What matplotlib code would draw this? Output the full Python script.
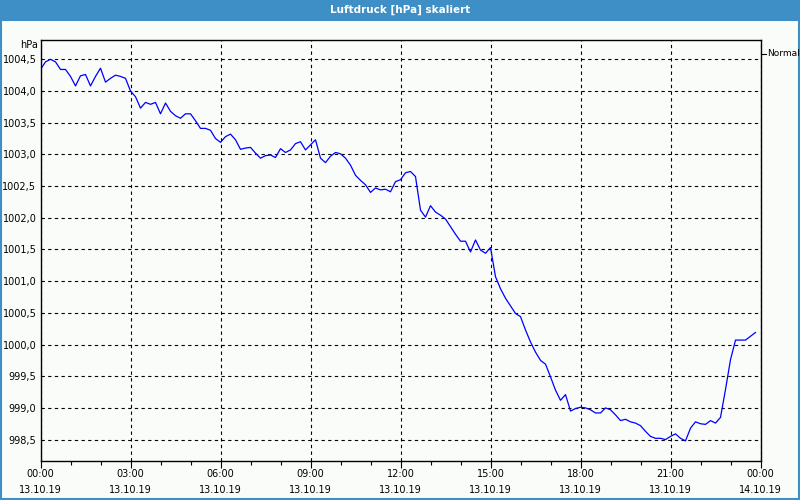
import numpy as np
import matplotlib.pyplot as plt
from matplotlib.patches import Rectangle
from matplotlib.lines import Line2D

# Luftdruck in hPa, alle 10 Minuten ab 13.10.19 00:00
pressure = [
    1004.34, 1004.46, 1004.50, 1004.46, 1004.34, 1004.34, 1004.23, 1004.08, 1004.24, 1004.26,
    1004.08, 1004.23, 1004.36, 1004.14, 1004.20, 1004.25, 1004.23, 1004.20, 1004.00, 1003.91,
    1003.73, 1003.82, 1003.79, 1003.82, 1003.64, 1003.81, 1003.68, 1003.61, 1003.57, 1003.64,
    1003.64, 1003.53, 1003.41, 1003.41, 1003.38, 1003.25, 1003.19, 1003.28, 1003.32, 1003.23,
    1003.08, 1003.10, 1003.11, 1003.02, 1002.94, 1002.98, 1002.99, 1002.95, 1003.09, 1003.03,
    1003.07, 1003.17, 1003.20, 1003.07, 1003.15, 1003.23, 1002.94, 1002.87, 1002.97, 1003.03,
    1003.01, 1002.94, 1002.83, 1002.67, 1002.59, 1002.52, 1002.40, 1002.47, 1002.44, 1002.45,
    1002.41, 1002.57, 1002.60, 1002.71, 1002.73, 1002.65, 1002.12, 1002.01, 1002.19, 1002.09,
    1002.04, 1001.98, 1001.86, 1001.74, 1001.63, 1001.63, 1001.46, 1001.65, 1001.49, 1001.44,
    1001.53, 1001.07, 1000.88, 1000.73, 1000.61, 1000.49, 1000.44, 1000.23, 1000.04, 999.88,
    999.75, 999.69, 999.49, 999.28, 999.12, 999.21, 998.95, 998.99, 999.01, 999.00,
    998.97, 998.92, 998.92, 999.00, 998.97, 998.89, 998.80, 998.82, 998.78, 998.76,
    998.72, 998.63, 998.55, 998.52, 998.52, 998.50, 998.55, 998.59, 998.52, 998.48,
    998.68, 998.78, 998.75, 998.74, 998.80, 998.76, 998.85, 999.29, 999.76, 1000.07,
    1000.07, 1000.07, 1000.13, 1000.19,
]
hours = np.arange(len(pressure)) / 6.0

tick_hours = [0, 3, 6, 9, 12, 15, 18, 21, 24]
tick_times = ['00:00', '03:00', '06:00', '09:00', '12:00', '15:00', '18:00', '21:00', '00:00']
tick_dates = ['13.10.19'] * 8 + ['14.10.19']
y_ticks = [998.5, 999.0, 999.5, 1000.0, 1000.5, 1001.0, 1001.5, 1002.0, 1002.5,
           1003.0, 1003.5, 1004.0, 1004.5]

bg = '#fafcfa'
blue_bar = '#3d8fc6'

fig = plt.figure(figsize=(8, 5), dpi=100, facecolor=bg)
ax = fig.add_axes([40.5 / 800, 1 - 460.5 / 500, 720 / 800, 420.2 / 500])
ax.set_facecolor(bg)

ax.plot(hours, pressure, color='#0000ff', lw=0.9)

ax.set_xlim(0, 24)
ax.set_ylim(998.17, 1004.80)

ax.set_xticks(tick_hours)
ax.set_xticklabels([t + '\n' + d for t, d in zip(tick_times, tick_dates)],
                   fontsize=7, linespacing=1.75)
ax.set_xticks(np.arange(0, 25, 1), minor=True)
ax.tick_params(axis='x', which='major', length=5, width=0.8, pad=0.8)
ax.tick_params(axis='x', which='minor', length=3, width=0.8)

ax.set_yticks(y_ticks)
ax.set_yticklabels([f'{v:.1f}'.replace('.', ',') for v in y_ticks], fontsize=7)
ax.tick_params(axis='y', length=0, pad=3)

ax.grid(True, which='major', color='black', lw=0.8, ls=(0, (3, 3)))
for s in ax.spines.values():
    s.set_color('black')
    s.set_linewidth(1.0)

# Titelleiste
fig.patches.append(Rectangle((0, 1 - 21 / 500), 1, 21 / 500, transform=fig.transFigure,
                             facecolor=blue_bar, edgecolor='none'))
fig.text(0.5, 1 - 10 / 500, 'Luftdruck [hPa] skaliert', color='white', fontsize=7.5,
         fontweight='bold', ha='center', va='center')
# Rahmen
fig.patches.append(Rectangle((0.001, 0.002), 0.998, 0.996, transform=fig.transFigure,
                             facecolor='none', edgecolor=blue_bar, lw=1.5))

fig.text(38 / 800, 1 - 45 / 500, 'hPa', fontsize=7, ha='right', va='center')

# Legende rechts
fig.lines.append(Line2D([762 / 800, 766 / 800], [1 - 54 / 500, 1 - 54 / 500],
                        transform=fig.transFigure, color='black', lw=0.8))
fig.text(767 / 800, 1 - 54 / 500, 'Normal', fontsize=6.5, ha='left', va='center')

fig.savefig('out.png', dpi=100, facecolor=bg)
